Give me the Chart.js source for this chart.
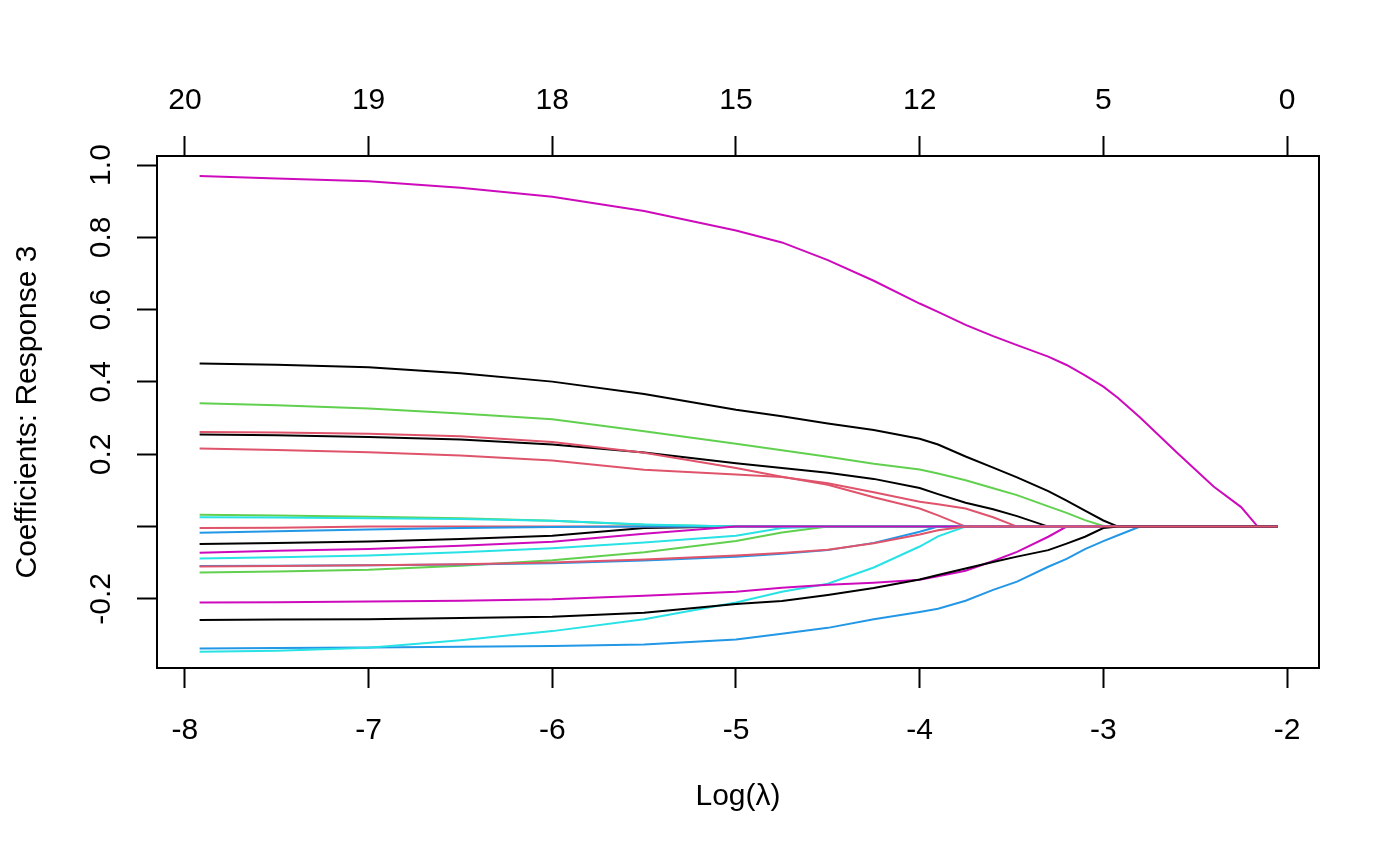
<!DOCTYPE html>
<html>
<head>
<meta charset="utf-8">
<script src="https://cdn.jsdelivr.net/npm/chart.js@4.4.1/dist/chart.umd.min.js"></script>
<style>
  html, body { margin: 0; padding: 0; background: #fff; }
</style>
</head>
<body>
<canvas id="pathChart" width="1400" height="866"></canvas>
<script>
const logLambda = [-7.92, -7.5, -7.0, -6.5, -6.0, -5.5, -5.0, -4.75, -4.5, -4.25, -4.0, -3.9, -3.75,
                   -3.6, -3.47, -3.3, -3.2, -3.1, -3.0, -2.92, -2.8, -2.6, -2.4, -2.25, -2.16, -2.05];

// coefficient paths, in the order of the variables (colour cycles black, red, green, blue, cyan, magenta)
const v01 = [0.255, 0.253, 0.248, 0.241, 0.227, 0.205, 0.175, 0.162, 0.149, 0.132, 0.107, 0.090, 0.066, 0.048, 0.029, 0, 0, 0, 0, 0, 0, 0, 0, 0, 0, 0];
const v02 = [0.216, 0.212, 0.206, 0.197, 0.183, 0.157, 0.144, 0.137, 0.120, 0.095, 0.069, 0.062, 0.050, 0.026, 0, 0, 0, 0, 0, 0, 0, 0, 0, 0, 0, 0];
const v03 = [0.341, 0.336, 0.327, 0.313, 0.297, 0.264, 0.229, 0.211, 0.193, 0.174, 0.158, 0.147, 0.128, 0.106, 0.087, 0.056, 0.038, 0.018, 0.002, 0, 0, 0, 0, 0, 0, 0];
const v04 = [-0.337, -0.336, -0.334, -0.332, -0.330, -0.326, -0.312, -0.296, -0.280, -0.256, -0.236, -0.227, -0.205, -0.175, -0.152, -0.111, -0.089, -0.062, -0.040, -0.024, 0, 0, 0, 0, 0, 0];
const v05 = [-0.346, -0.343, -0.335, -0.314, -0.289, -0.256, -0.210, -0.180, -0.158, -0.113, -0.055, -0.027, 0, 0, 0, 0, 0, 0, 0, 0, 0, 0, 0, 0, 0, 0];
const v06 = [0.970, 0.963, 0.955, 0.937, 0.912, 0.873, 0.819, 0.786, 0.737, 0.680, 0.617, 0.594, 0.558, 0.527, 0.502, 0.470, 0.447, 0.418, 0.387, 0.356, 0.302, 0.205, 0.111, 0.054, 0, 0];
const v07 = [-0.048, -0.045, -0.041, -0.034, -0.025, -0.004, 0, 0, 0, 0, 0, 0, 0, 0, 0, 0, 0, 0, 0, 0, 0, 0, 0, 0, 0, 0];
const v08 = [-0.004, -0.003, 0, 0, 0, 0, 0, 0, 0, 0, 0, 0, 0, 0, 0, 0, 0, 0, 0, 0, 0, 0, 0, 0, 0, 0];
const v09 = [0.033, 0.031, 0.027, 0.023, 0.016, 0.005, 0, 0, 0, 0, 0, 0, 0, 0, 0, 0, 0, 0, 0, 0, 0, 0, 0, 0, 0, 0];
const v10 = [-0.017, -0.013, -0.008, -0.004, -0.001, 0, 0, 0, 0, 0, 0, 0, 0, 0, 0, 0, 0, 0, 0, 0, 0, 0, 0, 0, 0, 0];
const v11 = [0.026, 0.025, 0.023, 0.021, 0.016, 0.006, 0, 0, 0, 0, 0, 0, 0, 0, 0, 0, 0, 0, 0, 0, 0, 0, 0, 0, 0, 0];
const v12 = [-0.210, -0.209, -0.207, -0.205, -0.201, -0.191, -0.180, -0.169, -0.161, -0.155, -0.147, -0.137, -0.122, -0.095, -0.070, -0.028, 0, 0, 0, 0, 0, 0, 0, 0, 0, 0];
const v13 = [0.451, 0.448, 0.441, 0.424, 0.401, 0.367, 0.323, 0.305, 0.285, 0.267, 0.243, 0.227, 0.194, 0.163, 0.136, 0.098, 0.072, 0.044, 0.017, 0, 0, 0, 0, 0, 0, 0];
const v14 = [0.262, 0.260, 0.257, 0.250, 0.234, 0.204, 0.162, 0.138, 0.116, 0.081, 0.050, 0.031, 0, 0, 0, 0, 0, 0, 0, 0, 0, 0, 0, 0, 0, 0];
const v15 = [-0.127, -0.124, -0.119, -0.108, -0.093, -0.071, -0.040, -0.016, 0, 0, 0, 0, 0, 0, 0, 0, 0, 0, 0, 0, 0, 0, 0, 0, 0, 0];
const v16 = [-0.109, -0.108, -0.107, -0.105, -0.101, -0.094, -0.083, -0.075, -0.065, -0.045, -0.014, 0, 0, 0, 0, 0, 0, 0, 0, 0, 0, 0, 0, 0, 0, 0];
const v17 = [-0.088, -0.085, -0.080, -0.071, -0.060, -0.044, -0.025, -0.004, 0, 0, 0, 0, 0, 0, 0, 0, 0, 0, 0, 0, 0, 0, 0, 0, 0, 0];
const v18 = [-0.072, -0.067, -0.062, -0.053, -0.042, -0.020, 0, 0, 0, 0, 0, 0, 0, 0, 0, 0, 0, 0, 0, 0, 0, 0, 0, 0, 0, 0];
const v19 = [-0.258, -0.257, -0.256, -0.253, -0.249, -0.238, -0.214, -0.206, -0.189, -0.170, -0.146, -0.134, -0.116, -0.098, -0.083, -0.065, -0.047, -0.028, -0.004, 0, 0, 0, 0, 0, 0, 0];
const v20 = [-0.110, -0.109, -0.107, -0.104, -0.099, -0.091, -0.080, -0.073, -0.064, -0.046, -0.022, -0.010, 0, 0, 0, 0, 0, 0, 0, 0, 0, 0, 0, 0, 0, 0];

const paths = [v01, v02, v03, v04, v05, v06, v07, v08, v09, v10, v11, v12, v13, v14, v15, v16, v17, v18, v19, v20];
const palette = ['#000000', '#DF536B', '#61D04F', '#2297E6', '#28E2E5', '#CD0BBC'];

// axis ticks
const xTicks = [-8, -7, -6, -5, -4, -3, -2];
const dfLabels = ['20', '19', '18', '15', '12', '5', '0'];
const yTicks = [-0.2, 0, 0.2, 0.4, 0.6, 0.8, 1.0];
const yTickLabels = ['-0.2', '', '0.2', '0.4', '0.6', '0.8', '1.0'];

const FONT = '"Liberation Sans", Arial, Helvetica, sans-serif';
const FSIZE = 30;

// y tick labels are rotated like R's las=0
const rotatedYLabels = {
    id: 'rotatedYLabels',
    afterDraw(chart) {
        const { ctx } = chart;
        const y = chart.scales.y;
        ctx.save();
        ctx.font = FSIZE + 'px ' + FONT;
        ctx.fillStyle = '#000';
        ctx.textAlign = 'center';
        ctx.textBaseline = 'middle';
        yTicks.forEach((v, i) => {
            ctx.save();
            ctx.translate(102, y.getPixelForValue(v));
            ctx.rotate(-Math.PI / 2);
            ctx.fillText(yTickLabels[i], 0, 0);
            ctx.restore();
        });
        ctx.restore();
    }
};

const datasets = paths.map((p, i) => ({
    data: logLambda.map((x, j) => ({ x: x, y: p[j] })),
    borderColor: palette[i % 6],
    borderWidth: 2,
    pointRadius: 0,
    tension: 0,
    fill: false,
    order: paths.length - i
}));

const tickGrid = { display: true, drawOnChartArea: false, drawTicks: true, tickLength: 20, tickWidth: 2, tickColor: '#000' };
const box = { display: true, color: '#000', width: 2 };

new Chart(document.getElementById('pathChart'), {
    type: 'line',
    data: { datasets },
    options: {
        responsive: false,
        animation: false,
        devicePixelRatio: 1,
        layout: { padding: 0 },
        plugins: { legend: { display: false }, tooltip: { enabled: false } },
        scales: {
            x: {
                type: 'linear', position: 'bottom', min: -8.152, max: -1.826,
                afterBuildTicks: s => { s.ticks = xTicks.map(v => ({ value: v })); },
                afterFit: s => { s.height = 198; },
                ticks: { color: '#000', font: { family: FONT, size: FSIZE }, padding: 25, maxRotation: 0, autoSkip: false },
                grid: tickGrid, border: box,
                title: { display: true, text: 'Log(λ)', color: '#000', font: { family: FONT, size: FSIZE }, padding: { top: 0, bottom: 51 } }
            },
            x2: {
                type: 'linear', position: 'top', min: -8.152, max: -1.826,
                afterBuildTicks: s => { s.ticks = xTicks.map(v => ({ value: v })); },
                afterFit: s => { s.height = 156; },
                ticks: { color: '#000', font: { family: FONT, size: FSIZE }, padding: 17, maxRotation: 0, autoSkip: false,
                         callback: (v, i) => dfLabels[i] },
                grid: tickGrid, border: box
            },
            y: {
                type: 'linear', position: 'left', min: -0.391, max: 1.025,
                afterBuildTicks: s => { s.ticks = yTicks.map(v => ({ value: v })); },
                afterFit: s => { s.width = 157; },
                ticks: { display: false },
                grid: tickGrid, border: box,
                title: { display: true, text: 'Coefficients: Response 3', color: '#000', font: { family: FONT, size: FSIZE }, padding: { top: 10, bottom: 0 } }
            },
            y2: {
                type: 'linear', position: 'right', min: -0.391, max: 1.025,
                afterFit: s => { s.width = 81; },
                ticks: { display: false },
                grid: { display: false }, border: box
            }
        }
    },
    plugins: [rotatedYLabels]
});
</script>
</body>
</html>
